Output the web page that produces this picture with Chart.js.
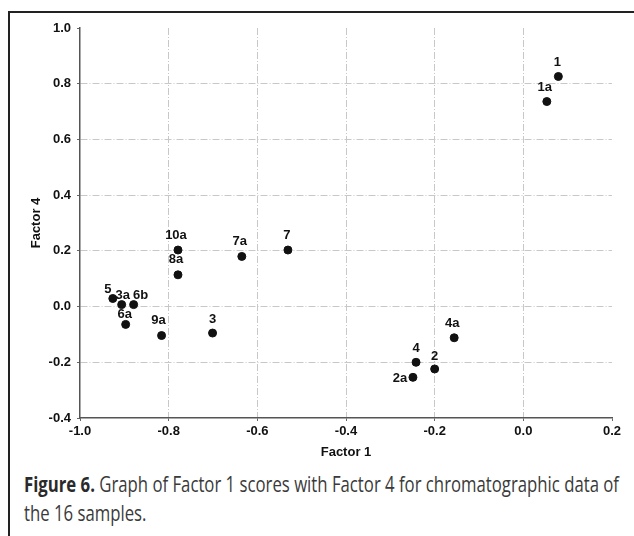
<!DOCTYPE html>
<html>
<head>
<meta charset="utf-8">
<script src="https://cdn.jsdelivr.net/npm/chart.js@4"></script>
<style>
  html, body { margin: 0; padding: 0; width: 634px; height: 536px; overflow: hidden; background: #fff; }
  #frame { position: absolute; left: 8px; top: 11px; width: 700px; height: 600px; border: 2px solid #222; }
  #wrap { position: absolute; left: 0; top: 0; width: 634px; height: 470px; }
  #caption {
    position: absolute; left: 24px; top: 470px;
    font-family: "Open Sans", "Noto Sans", sans-serif;
    font-size: 21px; line-height: 29px; color: #3a3a3a; white-space: nowrap;
  }
  #caption .line { display: block; transform-origin: 0 50%; }
  #caption b { color: #2a2a2a; }
</style>
</head>
<body>
<div id="frame"></div>
<div id="wrap"><canvas id="myChart" width="634" height="470"></canvas></div>
<div id="caption">
  <span class="line" id="cap1"><b>Figure 6.</b> Graph of Factor 1 scores with Factor 4 for chromatographic data of</span>
  <span class="line" id="cap2">the 16 samples.</span>
</div>
<script>
// sample scores
const names = ["1", "1a", "2", "2a", "3", "3a", "4", "4a", "5", "6a", "6b", "7", "7a", "8a", "9a", "10a"];
const factor1 = [0.079, 0.053, -0.200, -0.249, -0.701, -0.906, -0.242, -0.156, -0.926, -0.897, -0.879, -0.531, -0.635, -0.779, -0.816, -0.779];
const factor4 = [0.826, 0.736, -0.224, -0.254, -0.095, 0.007, -0.200, -0.112, 0.029, -0.064, 0.007, 0.203, 0.180, 0.114, -0.104, 0.203];

// where each name sits relative to its dot (px)
const labelSpots = {
  "1": [-1, -14], "1a": [-2, -14], "2": [0, -13], "2a": [-13, 1], "3": [0, -14],
  "3a": [1, -9], "4": [0, -14], "4a": [-2, -14], "5": [-5, -9], "6a": [-1, -10],
  "6b": [7, -9], "7": [-1, -15], "7a": [-2, -15], "8a": [-2, -15], "9a": [-3, -15], "10a": [-2, -15]
};

// squeeze the caption into a condensed look
const cap1 = document.getElementById("cap1");
const cap2 = document.getElementById("cap2");
const sx = 595 / cap1.getBoundingClientRect().width;
cap1.style.transform = `scaleX(${sx})`;
cap2.style.transform = `scaleX(${sx})`;

const FAM = "'Liberation Sans', Arial, Helvetica, sans-serif";

const pointNames = {
  id: "pointNames",
  afterDatasetsDraw(chart) {
    const ctx = chart.ctx;
    const meta = chart.getDatasetMeta(0);
    ctx.save();
    ctx.font = "bold 13px " + FAM;
    ctx.fillStyle = "#111";
    ctx.textAlign = "center";
    ctx.textBaseline = "middle";
    meta.data.forEach((pt, i) => {
      const off = labelSpots[names[i]] || [0, -14];
      ctx.fillText(names[i], pt.x + off[0], pt.y + off[1]);
    });
    ctx.restore();
  }
};

const edge = (v, a, b) => Math.abs(v - a) < 1e-6 || Math.abs(v - b) < 1e-6;
const fmt = (v) => (Math.abs(v) < 1e-9 ? 0 : v).toFixed(1);
const gridCol = "#c8c8c8";
const tickFont = { family: FAM, size: 13, weight: "bold" };

function draw() {
  let ctx = document.getElementById("myChart").getContext("2d");
  let myChart = new Chart(ctx, {
    type: "scatter",
    data: {
      datasets: [{
        data: factor1.map((x, i) => ({ x: x, y: factor4[i] })),
        backgroundColor: "#111",
        borderColor: "#111",
        pointRadius: 4,
        pointHoverRadius: 4
      }]
    },
    options: {
      responsive: false,
      animation: false,
      events: [],
      layout: { padding: { top: 28, right: 22, bottom: 7, left: 0 } },
      plugins: { legend: { display: false }, tooltip: { enabled: false } },
      scales: {
        x: {
          min: -1.0, max: 0.2,
          afterFit: (s) => { s.height = 45; },
          ticks: { stepSize: 0.2, color: "#111", font: tickFont, padding: 3, callback: fmt },
          grid: {
            color: (c) => edge(c.tick.value, -1.0, 0.2) ? "rgba(0,0,0,0)" : gridCol,
            tickColor: "#666", tickLength: 3, lineWidth: 1
          },
          border: { color: "#555", width: 1.5, dash: [7, 2, 1, 2] },
          title: { display: true, text: "Factor 1", color: "#111", font: tickFont, padding: { top: 2, bottom: 3 } }
        },
        y: {
          min: -0.4, max: 1.0,
          afterFit: (s) => { s.width = 80; },
          ticks: { stepSize: 0.2, color: "#111", font: tickFont, padding: 6, callback: fmt },
          grid: {
            color: (c) => edge(c.tick.value, -0.4, 1.0) ? "rgba(0,0,0,0)" : gridCol,
            tickColor: "#666", tickLength: 3, lineWidth: 1
          },
          border: { color: "#555", width: 1.5, dash: [7, 2, 1, 2] },
          title: { display: true, text: "Factor 4", color: "#111", font: tickFont, padding: { top: 29, bottom: 0 } }
        }
      }
    },
    plugins: [pointNames]
  });
}

document.fonts.load("bold 13px 'Liberation Sans'").then(draw, draw);
</script>
</body>
</html>
